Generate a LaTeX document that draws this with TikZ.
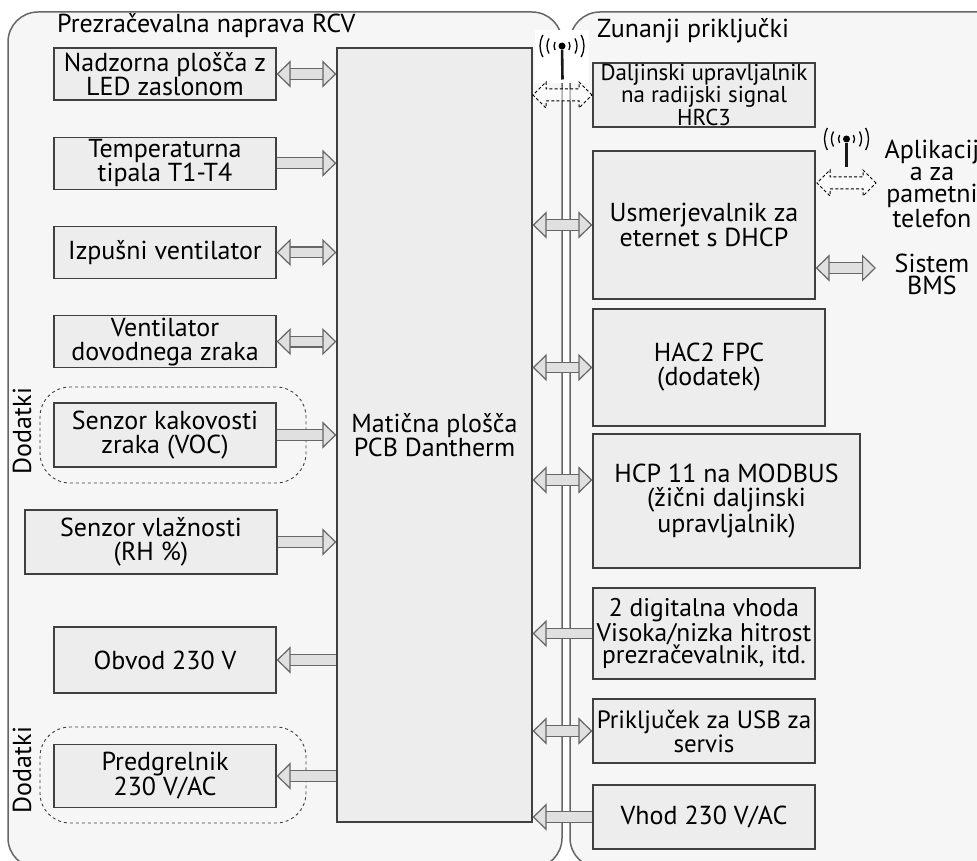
\documentclass[tikz,border=0pt]{standalone}
\usepackage{fontspec}
\setmainfont{PT Sans}
\usepackage{xcolor}
\usetikzlibrary{arrows.meta, positioning, shapes.arrows}
\definecolor{panelfill}{HTML}{F6F6F6}
\definecolor{boxfill}{HTML}{EDEDED}
\definecolor{arrowfill}{HTML}{E0E0E0}
\definecolor{arrowline}{HTML}{666666}
\tikzset{
    panel/.style={draw=arrowline, fill=panelfill, line width=1.5pt, rounded corners=30pt},
    box/.style={draw=black!75, fill=boxfill, line width=1.2pt, align=center, inner sep=0pt, minimum width=222pt, minimum height=52pt, font=\fontsize{26}{24}\selectfont},
    label/.style={align=center, inner sep=0pt, font=\fontsize{26}{22}\selectfont},
    addon/.style={draw=black!75, dashed, line width=0.9pt, rounded corners=30pt, minimum width=266pt, minimum height=96pt},
    tip/.tip={Triangle[length=14pt, width=27pt, fill=arrowfill, color=arrowline, line width=1.2pt]},
    bus/.style={draw=arrowline, line width=1.2pt, double=arrowfill, double distance=9.5pt},
    wireless/.style={shape=double arrow, draw=black, fill=white, fill opacity=0.5, text opacity=1, dash pattern=on 3pt off 2.2pt, line width=1pt, minimum width=25pt, minimum height=59pt, inner sep=5.5pt, double arrow head extend=7pt},
    mast/.style={line width=2.6pt, draw=black!90},
    antenna/.pic={
        \foreach \r in {8,15,22} {
            \draw[line width=1.3pt] (-30:\r pt) arc (-30:30:\r pt);
            \draw[line width=1.3pt] (150:\r pt) arc (150:210:\r pt);
        }
    }
}
\begin{document}
\begin{tikzpicture}[x=1pt, y=-1pt]
\useasboundingbox (0,0) rectangle (977,861);
\clip (0,0) rectangle (977,861);
\fill[white] (0,0) rectangle (977,861);

% Panels
\path[panel] (8,12) rectangle (562,868);
\path[panel] (570,12) rectangle (1020,868);
\node[fill=white, inner sep=0pt, minimum width=54pt, minimum height=53pt] (gap) at (562,57) {};
\node[label, anchor=west] (titleL) at (57,26) {Prezračevalna naprava RCV};
\node[label, anchor=west] (titleR) at (597,31) {Zunanji priključki};

% Add-on groups
\node[addon] (groupA) at (173,435) {};
\node[addon] (groupB) at (173,775) {};
\node[label, rotate=90] (dodA) at (22,431) {Dodatki};
\node[label, rotate=90] (dodB) at (22,770) {Dodatki};

% Main board
\node[box, minimum width=195pt, minimum height=774pt] (pcb) at (434.5,435) {Matična plošča\\ PCB Dantherm};

% Left column
\node[box] (led) at (165,74) {Nadzorna plošča z\\ LED zaslonom};
\node[box] (temp) [below=36pt of led] {Temperaturna\\ tipala T1-T4};
\node[box] (exhaust) [below=36pt of temp] {Izpušni ventilator};
\node[box] (supply) [below=36pt of exhaust] {Ventilator\\ dovodnega zraka};
\node[box, minimum height=64pt] (voc) at (165,435) {Senzor kakovosti\\ zraka (VOC)};
\node[box, minimum width=252pt, minimum height=64pt] (rh) at (151,542) {Senzor vlažnosti\\ (RH \%)};
\node[box, minimum height=66pt] (bypass) at (165,660) {Obvod 230 V};
\node[box, minimum height=63pt] (heater) at (165,776) {Predgrelnik\\ 230 V/AC};

% Right column
\node[box, minimum height=64pt, font=\fontsize{23}{20.5}\selectfont] (hrc) at (704,95) {Daljinski upravljalnik\\ na radijski signal\\ HRC3};
\node[box, minimum height=148pt] (router) at (704,225) {Usmerjevalnik za\\ eternet s DHCP};
\node[box, minimum width=232pt, minimum height=117pt] (hac) at (709,367.5) {HAC2 FPC\\ (dodatek)};
\node[box, minimum width=267pt, minimum height=134pt] (hcp) at (726.5,501) {HCP 11 na MODBUS\\ (žični daljinski\\ upravljalnik)};
\node[box, minimum height=91pt, font=\fontsize{25.5}{22.5}\selectfont] (digital) at (704,633.5) {2 digitalna vhoda\\ Visoka/nizka hitrost\\ prezračevalnik, itd.};
\node[box, minimum height=64pt, font=\fontsize{25}{22}\selectfont] (usb) at (704,731) {Priključek za USB za\\ servis};
\node[box, minimum height=64pt] (mains) at (704,817) {Vhod 230 V/AC};

% Outside texts
\node[label] (app) at (932,184) {Aplikacij\\ a za\\ pametni\\ telefon};
\node[label] (bms) at (932,274) {Sistem\\ BMS};

% Arrows
\draw[bus, tip-tip] (led.east) -- (led.east -| pcb.west);
\draw[bus, -tip] (temp.east) -- (temp.east -| pcb.west);
\draw[bus, tip-tip] (exhaust.east) -- (exhaust.east -| pcb.west);
\draw[bus, tip-tip] (supply.east) -- (supply.east -| pcb.west);
\draw[bus, -tip] (voc.east) -- (voc.east -| pcb.west);
\draw[bus, -tip] (rh.east) -- (rh.east -| pcb.west);
\draw[bus, -tip] (bypass.east -| pcb.west) -- (bypass.east);
\draw[bus, -tip] (heater.east -| pcb.west) -- (heater.east);
\draw[bus, tip-tip] (router.west) -- (router.west -| pcb.east);
\draw[bus, tip-tip] (hac.west) -- (hac.west -| pcb.east);
\draw[bus, tip-tip] ([yshift=21pt]hcp.west) -- ([yshift=21pt]hcp.west -| pcb.east);
\draw[bus, -tip] (digital.west) -- (digital.west -| pcb.east);
\draw[bus, tip-tip] (usb.west) -- (usb.west -| pcb.east);
\draw[bus, -tip] (mains.west) -- (mains.west -| pcb.east);
\coordinate (routerBms) at ([yshift=-43pt]router.east);
\coordinate (bmsEnd) at (876,268);
\draw[bus, tip-tip] (routerBms) -- (bmsEnd);

% Wireless links
\node[wireless] (linkHrc) at (562.5,95) {};
\node[wireless] (linkApp) at (846.5,183) {};
\node[circle, fill=black, inner sep=0pt, minimum size=7pt] (antHrc) at (562,46) {};
\node[circle, fill=black, inner sep=0pt, minimum size=7pt] (antApp) at (846.5,139) {};
\pic at (antHrc) {antenna};
\pic at (antApp) {antenna};
\draw[mast] (antHrc) -- ([yshift=9pt]linkHrc.north);
\draw[mast] (antApp) -- ([yshift=9pt]linkApp.north);

\end{tikzpicture}
\end{document}
